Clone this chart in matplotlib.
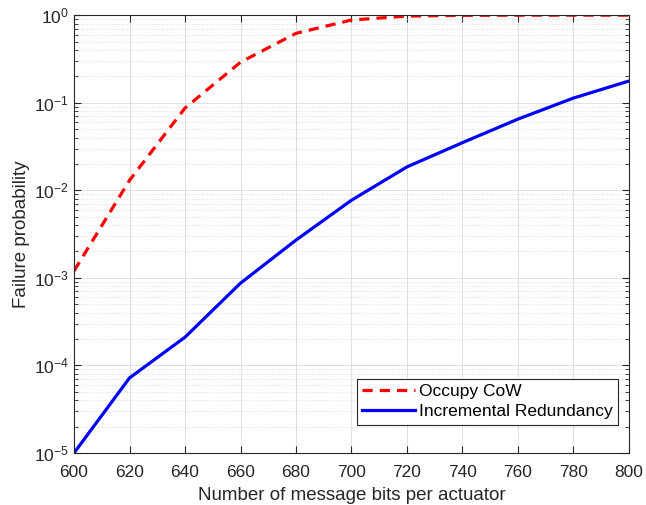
import matplotlib
matplotlib.use("Agg")
import matplotlib.pyplot as plt
from matplotlib.ticker import LogLocator, FixedLocator

plt.rcParams['font.family'] = ['Liberation Sans', 'DejaVu Sans']

bits = [600, 620, 640, 660, 680, 700, 720, 740, 760, 780, 800]
occupy_cow = [1.2e-3, 0.013, 0.087, 0.29, 0.62, 0.88, 0.975, 0.995, 0.999, 1.0, 1.0]
incremental = [1.0e-5, 7.2e-5, 2.1e-4, 8.7e-4, 2.7e-3, 7.7e-3, 0.0185, 0.035, 0.065, 0.113, 0.177]
xticks = [600, 620, 640, 660, 680, 700, 720, 740, 760, 780, 800]

fig = plt.figure(figsize=(6.46, 5.05), dpi=100)
ax = fig.add_axes([0.1146, 0.103, 0.859, 0.867])

ax.plot(bits, occupy_cow, color='#ff0000', linestyle=(0, (3.2, 2.2)), linewidth=2.3, label='Occupy CoW')
ax.plot(bits, incremental, color='#0000ff', linestyle='-', linewidth=2.3, label='Incremental Redundancy')

ax.set_yscale('log')
ax.set_xlim(600, 800)
ax.set_ylim(1e-5, 1)
ax.xaxis.set_major_locator(FixedLocator(xticks))
ax.yaxis.set_major_locator(LogLocator(base=10, numticks=10))
ax.yaxis.set_minor_locator(LogLocator(base=10, subs=range(2, 10), numticks=20))

ax.grid(True, which='major', color='#d9d9d9', linewidth=0.6, linestyle='-')
ax.grid(True, which='minor', axis='y', color='#d0d0d0', linewidth=0.6, linestyle=(0, (1, 2)))
ax.set_axisbelow(True)

for s in ax.spines.values():
    s.set_color('#262626')
    s.set_linewidth(0.8)
ax.tick_params(which='both', direction='in', top=True, right=True, colors='#262626', labelsize=12.5)
ax.tick_params(which='major', length=5)
ax.tick_params(which='minor', length=3)
ax.tick_params(axis='x', pad=9)

ax.set_xlabel('Number of message bits per actuator', fontsize=13.5, color='#262626', labelpad=5)
ax.set_ylabel('Failure probability', fontsize=13.5, color='#262626', labelpad=3)

leg = ax.legend(loc='lower right', bbox_to_anchor=(0.980, 0.065), fontsize=12.5, frameon=True,
                fancybox=False, framealpha=1, edgecolor='#262626', handlelength=3.0,
                borderpad=0.3, labelspacing=0.3, handletextpad=0.25, borderaxespad=0)
leg.get_frame().set_linewidth(0.8)

fig.savefig('out.png', dpi=100)
